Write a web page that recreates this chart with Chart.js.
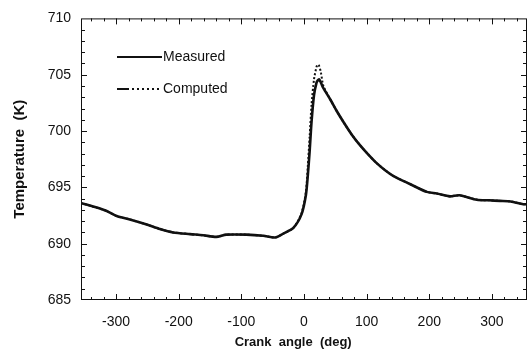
<!DOCTYPE html>
<html>
<head>
<meta charset="utf-8">
<script src="https://cdn.jsdelivr.net/npm/chart.js@4.4.0/dist/chart.umd.min.js"></script>
<style>
  html, body { margin: 0; padding: 0; background: #fff; }
</style>
</head>
<body>
<canvas id="tempChart" width="528" height="353"></canvas>
<script>
// crank angle (deg), shared by both curves
const crankAngle = [-356, -337, -315, -299, -278, -251, -230, -209, -182, -161, -140, -124, -92, -65, -46, -33, -17, -4, 3, 6, 9, 12, 16, 20, 22, 24, 27, 31, 42, 52, 63, 76, 90, 102, 116, 130, 143, 169, 196, 212, 233, 248, 276, 295, 313, 330, 350, 356];
// temperature (K)
const measuredTemp = [693.6, 693.3, 692.9, 692.45, 692.15, 691.7, 691.3, 691.0, 690.85, 690.75, 690.6, 690.8, 690.8, 690.7, 690.55, 690.9, 691.4, 692.6, 694.3, 696.0, 698.2, 700.8, 703.2, 704.3, 704.5, 704.6, 704.3, 703.8, 702.8, 701.8, 700.8, 699.7, 698.7, 697.95, 697.15, 696.5, 696.0, 695.3, 694.6, 694.45, 694.2, 694.3, 693.9, 693.85, 693.8, 693.75, 693.5, 693.5];
const computedTemp = [693.6, 693.3, 692.9, 692.45, 692.15, 691.7, 691.3, 691.0, 690.85, 690.75, 690.6, 690.8, 690.8, 690.7, 690.55, 690.9, 691.4, 692.7, 694.6, 696.8, 699.5, 702.3, 704.6, 705.7, 705.9, 705.8, 705.2, 704.0, 702.8, 701.8, 700.8, 699.7, 698.7, 697.95, 697.15, 696.5, 696.0, 695.3, 694.6, 694.45, 694.2, 694.3, 693.9, 693.85, 693.8, 693.75, 693.5, 693.5];
const seriesNames = ['Measured', 'Computed'];
const xTickLabels = [-300, -200, -100, 0, 100, 200, 300];
const yTickLabels = [685, 690, 695, 700, 705, 710];

const toPoints = (vals) => vals.map((v, i) => ({ x: crankAngle[i], y: v }));

// frame with inward ticks on all four sides
const frameTicks = {
  id: 'frameTicks',
  afterDatasetsDraw(chart) {
    const { ctx, chartArea: a, scales: { x, y } } = chart;
    ctx.save();
    ctx.strokeStyle = '#111';
    ctx.lineWidth = 1;
    ctx.strokeRect(a.left + 0.5, a.top + 0.5, a.right - a.left - 1, a.bottom - a.top - 1);
    ctx.beginPath();
    for (let v = -340; v <= 340; v += 20) {
      const px = Math.round(x.getPixelForValue(v)) + 0.5;
      const len = v % 100 === 0 ? 6 : 3;
      ctx.moveTo(px, a.bottom); ctx.lineTo(px, a.bottom - len);
      ctx.moveTo(px, a.top); ctx.lineTo(px, a.top + len);
    }
    for (let v = 686; v <= 709; v++) {
      const py = Math.round(y.getPixelForValue(v)) + 0.5;
      const len = v % 5 === 0 ? 6 : 4;
      ctx.moveTo(a.left, py); ctx.lineTo(a.left + len, py);
      ctx.moveTo(a.right, py); ctx.lineTo(a.right - len, py);
    }
    ctx.stroke();
    ctx.restore();
  }
};

// legend drawn inside the plot, top left
const innerLegend = {
  id: 'innerLegend',
  afterDraw(chart) {
    const { ctx } = chart;
    const ds = chart.data.datasets;
    const x0 = 117, x1 = 162, y0 = 57, gap = 32;
    ctx.save();
    ctx.font = '14px "Liberation Sans", Arial, sans-serif';
    ctx.fillStyle = '#111';
    ctx.textBaseline = 'middle';
    ds.forEach((d, i) => {
      const yy = y0 + i * gap;
      ctx.strokeStyle = '#111';
      ctx.lineWidth = 2;
      ctx.beginPath();
      if (d.borderDash && d.borderDash.length) {
        ctx.moveTo(x0, yy); ctx.lineTo(x0 + 12, yy);
        ctx.stroke();
        ctx.setLineDash([2, 3]);
        ctx.beginPath();
        ctx.moveTo(x0 + 15, yy); ctx.lineTo(x1, yy);
      } else {
        ctx.moveTo(x0, yy); ctx.lineTo(x1, yy);
      }
      ctx.stroke();
      ctx.setLineDash([]);
      ctx.fillText(d.label, x1 + 1, yy);
    });
    ctx.restore();
  }
};

new Chart(document.getElementById('tempChart').getContext('2d'), {
  type: 'line',
  data: {
    datasets: [
      {
        label: seriesNames[0],
        data: toPoints(measuredTemp),
        borderColor: '#111',
        borderWidth: 2.6,
        pointRadius: 0,
        tension: 0.25,
        order: 2,
      },
      {
        label: seriesNames[1],
        data: toPoints(computedTemp),
        borderColor: '#111',
        borderWidth: 2,
        borderDash: [2, 2],
        pointRadius: 0,
        tension: 0.25,
        order: 1,
      },
    ],
  },
  options: {
    responsive: false,
    animation: false,
    layout: { padding: { top: 14, right: 1, left: 0, bottom: 0 } },
    plugins: {
      legend: { display: false },
      tooltip: { enabled: false },
    },
    scales: {
      x: {
        type: 'linear',
        min: -356,
        max: 356,
        afterBuildTicks: (s) => { s.ticks = xTickLabels.map(v => ({ value: v })); },
        afterFit: (s) => { s.height = 53; },
        grid: { display: false, drawTicks: false },
        border: { display: false },
        ticks: {
          padding: 14,
          color: '#111',
          maxRotation: 0,
          font: { family: '"Liberation Sans", Arial, sans-serif', size: 14 },
        },
        title: {
          display: true,
          text: 'Crank  angle  (deg)      ',
          color: '#111',
          padding: { top: 0, bottom: 3 },
          font: { family: '"Liberation Sans", Arial, sans-serif', size: 13, weight: 'bold' },
        },
      },
      y: {
        min: 685,
        max: 710,
        afterBuildTicks: (s) => { s.ticks = yTickLabels.map(v => ({ value: v })); },
        afterFit: (s) => { s.width = 81; },
        grid: { display: false, drawTicks: false },
        border: { display: false },
        ticks: {
          padding: 10,
          color: '#111',
          font: { family: '"Liberation Sans", Arial, sans-serif', size: 14 },
        },
        title: {
          display: true,
          text: 'Temperature  (K)',
          color: '#111',
          padding: { top: 11, bottom: 0 },
          font: { family: '"Liberation Sans", Arial, sans-serif', size: 15, weight: 'bold' },
        },
      },
    },
  },
  plugins: [frameTicks, innerLegend],
});
</script>
</body>
</html>
